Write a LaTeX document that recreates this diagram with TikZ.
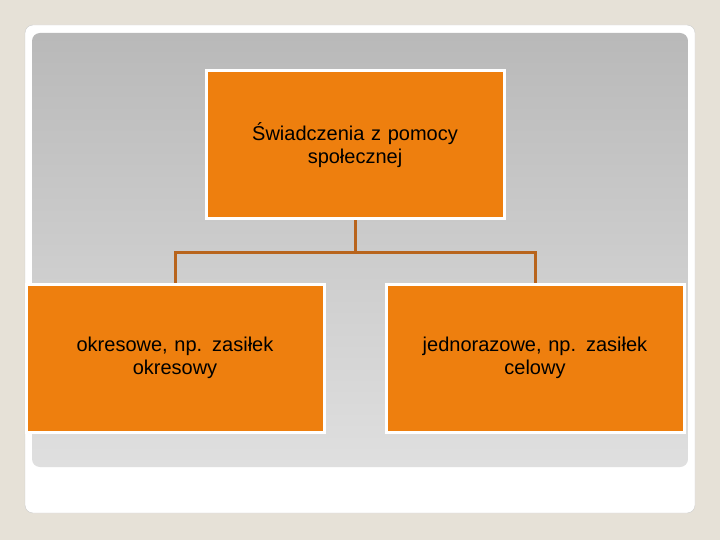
\documentclass[tikz,border=0pt]{standalone}
\usepackage{fontspec}
\setmainfont{Liberation Sans}
\usetikzlibrary{positioning}
\definecolor{bgbeige}{HTML}{E6E1D7}
\definecolor{boxorange}{HTML}{EE7F0E}
\definecolor{linkbrown}{HTML}{B8641C}
\tikzset{
  orangebox/.style={rectangle, fill=boxorange, draw=white, line width=3pt,
    minimum width=298pt, minimum height=148pt, align=center,
    font=\fontsize{20}{23}\selectfont, text width=280pt},
  link/.style={draw=linkbrown, line width=3pt}
}
\begin{document}
\begin{tikzpicture}[x=1pt,y=-1pt]
    \fill[bgbeige] (0,0) rectangle (720,540);
    \useasboundingbox (0,0) rectangle (720,540);
    \fill[white, draw=gray!40, rounded corners=8pt] (25,25) rectangle (695,513);
    \shade[top color=gray!55, bottom color=gray!25, rounded corners=8pt] (32,33) rectangle (688,467);

    \node[orangebox] (top) at (355,145) {Świadczenia z pomocy\\społecznej};
    \node[orangebox] (left) at (175,358) {okresowe, np. zasiłek\\okresowy};
    \node[orangebox] (right) at (535,358) {jednorazowe, np. zasiłek\\celowy};

    \coordinate (mid) at (355,252);
    \draw[link] (top.south) -- (mid);
    \draw[link] (left.north) |- (mid) -| (right.north);
\end{tikzpicture}
\end{document}
